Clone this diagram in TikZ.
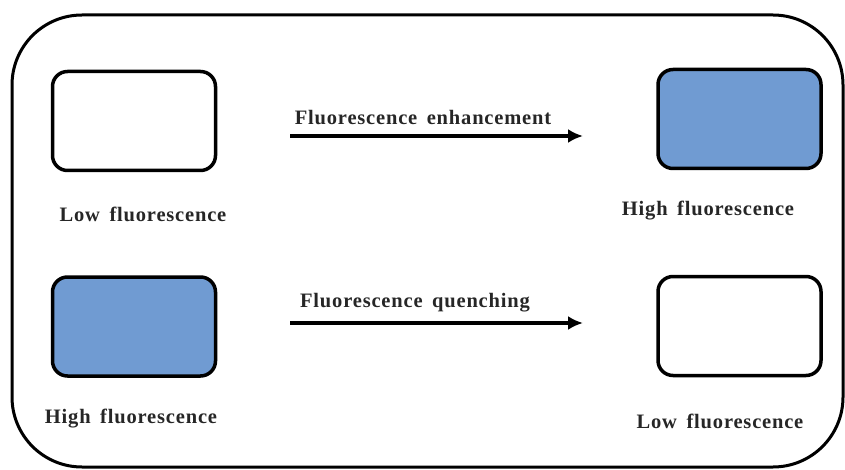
\documentclass[tikz,border=0pt]{standalone}
\usepackage{fontspec}
\setmainfont{Liberation Serif}
\usetikzlibrary{arrows.meta}
\newfontfamily\lblfont[LetterSpace=4,WordSpace=1.6]{Liberation Serif Bold}

\definecolor{glow}{RGB}{112,155,210}

\tikzstyle{sample}=[draw,rounded corners=15pt,line width=3.5pt,minimum width=163pt,minimum height=99pt,inner sep=0pt]
\tikzstyle{bright}=[sample,fill=glow]
\tikzstyle{dark}=[sample,fill=white]
\tikzstyle{caption}=[anchor=base,inner sep=0pt,text=black!85,font=\lblfont\fontsize{20.5}{24}\selectfont]

\begin{document}
\begin{tikzpicture}[x=1pt,y=-1pt]
	\useasboundingbox (0,0) rectangle (845,470);
	\draw[line width=3pt,rounded corners=70pt] (12,15) rectangle (843,467);
	\begin{scope}[>={Latex[length=15pt,width=14pt]}] %filled arrow tips
		% upper row: enhancement
		\node (lowA)[dark] at (134,121) {};
		\node (highA)[bright] at (739.5,119) {};
		\node (lowAtxt)[caption] at (143,222) {Low fluorescence};
		\node (highAtxt)[caption] at (708,215) {High fluorescence};
		\coordinate (startA) at (290,136);
		\coordinate (endA) at (583,136);
		\draw[->,line width=4pt] (startA) -- (endA);
		\node (enh)[caption] at (423,125) {Fluorescence enhancement};
		% lower row: quenching
		\node (highB)[bright] at (134,326.5) {};
		\node (lowB)[dark] at (739.5,326) {};
		\node (highBtxt)[caption] at (131,423) {High fluorescence};
		\node (lowBtxt)[caption] at (720,428) {Low fluorescence};
		\coordinate (startB) at (290,323);
		\coordinate (endB) at (583,323);
		\draw[->,line width=4pt] (startB) -- (endB);
		\node (que)[caption] at (415,307) {Fluorescence quenching};
	\end{scope}
\end{tikzpicture}
\end{document}
